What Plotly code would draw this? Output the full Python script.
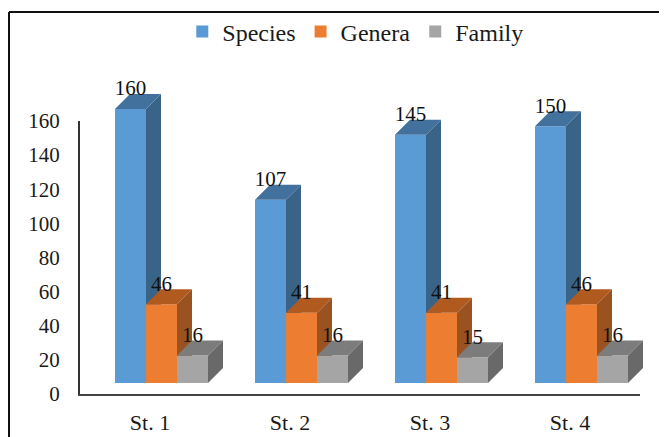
import plotly.graph_objects as go

categories = ["St. 1", "St. 2", "St. 3", "St. 4"]
series_names = ["Species", "Genera", "Family"]
species = [160, 107, 145, 150]
genera = [46, 41, 41, 46]
family = [16, 16, 15, 16]
series_values = [species, genera, family]
front_colors = ["#5B9BD5", "#ED7D31", "#A5A5A5"]
side_colors = ["#3A6388", "#9A5220", "#696969"]
top_colors = ["#41719C", "#B05A20", "#7C7C7C"]

PX_PER_CAT = 140
BAR_W = 31 / PX_PER_CAT
DX = 15 / PX_PER_CAT
SCALE = 1.7125
DY = 15 / SCALE
PLOT_W, PLOT_H = 580, 334
X_MIN = -0.5 - 11.5 / PX_PER_CAT
X_RANGE = [X_MIN, X_MIN + PLOT_W / PX_PER_CAT]
Y_RANGE = [-11 / SCALE, (PLOT_H - 11) / SCALE]
LABEL_LIFT = 11
FONT = "Liberation Serif"
TXT = "#1a1a1a"

fig = go.Figure()
# invisible trace gives the visible category / value axes something to draw
fig.add_trace(go.Scatter(x=categories, y=[0, 0, 0, 0], mode="none", showlegend=False, hoverinfo="skip"))

for s, (name, vals) in enumerate(zip(series_names, series_values)):
    ax = str(s + 2)
    offset = (s - 1) * BAR_W
    xs = [i + offset for i in range(len(vals))]
    fig.add_trace(go.Bar(x=xs, y=vals, width=BAR_W, name=name, marker=dict(color=front_colors[s], line=dict(width=0)),
                         xaxis="x" + ax, yaxis="y" + ax, hoverinfo="skip"))
    for x, v in zip(xs, vals):
        l, r = x - BAR_W / 2, x + BAR_W / 2
        fig.add_trace(go.Scatter(x=[r, r + DX, r + DX, r, r], y=[0, DY, v + DY, v, 0], mode="lines", fill="toself",
                                 fillcolor=side_colors[s], line=dict(width=0), showlegend=False,
                                 xaxis="x" + ax, yaxis="y" + ax, hoverinfo="skip"))
        fig.add_trace(go.Scatter(x=[l, l + DX, r + DX, r, l], y=[v, v + DY, v + DY, v, v], mode="lines", fill="toself",
                                 fillcolor=top_colors[s], line=dict(width=0), showlegend=False,
                                 xaxis="x" + ax, yaxis="y" + ax, hoverinfo="skip"))
    fig.add_trace(go.Scatter(x=xs, y=[v + LABEL_LIFT for v in vals], text=[str(v) for v in vals], mode="text",
                             textposition="middle center", textfont=dict(family=FONT, size=21, color="#111111"),
                             showlegend=False, xaxis="x" + ax, yaxis="y" + ax, hoverinfo="skip"))

layout = dict(
    width=659, height=429, autosize=False, paper_bgcolor="white", plot_bgcolor="rgba(0,0,0,0)",
    margin=dict(l=72, r=7, t=52, b=43, autoexpand=False), barmode="overlay",
    font=dict(family=FONT, size=21, color=TXT),
    showlegend=True,
    legend=dict(orientation="h", x=0.527, xanchor="center", xref="container", y=0.944, yanchor="middle", yref="container",
                font=dict(family=FONT, size=24, color=TXT), traceorder="normal", itemwidth=30,
                bgcolor="rgba(0,0,0,0)"),
    xaxis=dict(type="category", categoryorder="array", categoryarray=categories, range=[-0.5, 3.5],
               domain=[0, 560 / PLOT_W], showline=True, linecolor="#444444", linewidth=2, showgrid=False,
               zeroline=False, ticks="", tickfont=dict(family=FONT, size=22, color=TXT), ticklabelstandoff=8),
    yaxis=dict(range=[0, 160], domain=[0, 273 / PLOT_H], tickvals=list(range(0, 161, 20)), showline=True,
               linecolor="#333333", linewidth=2, showgrid=False, zeroline=False, ticks="",
               tickfont=dict(family=FONT, size=21, color=TXT), ticklabelstandoff=14),
    shapes=[
        dict(type="line", xref="paper", yref="paper", x0=-71 / PLOT_W, x1=587 / PLOT_W, y0=382 / PLOT_H, y1=382 / PLOT_H,
             line=dict(color="#111111", width=2)),
        dict(type="line", xref="paper", yref="paper", x0=-71 / PLOT_W, x1=-71 / PLOT_W, y0=382 / PLOT_H, y1=-43 / PLOT_H,
             line=dict(color="#111111", width=2)),
    ],
)
for s in range(3):
    ax = str(s + 2)
    xa = dict(range=X_RANGE, domain=[0, 1], visible=False, anchor="y" + ax)
    ya = dict(range=Y_RANGE, domain=[0, 1], visible=False, anchor="x" + ax)
    if s > 0:
        xa["overlaying"] = "x2"
        ya["overlaying"] = "y2"
    layout["xaxis" + ax] = xa
    layout["yaxis" + ax] = ya
fig.update_layout(**layout)
fig.write_html("out.html")
